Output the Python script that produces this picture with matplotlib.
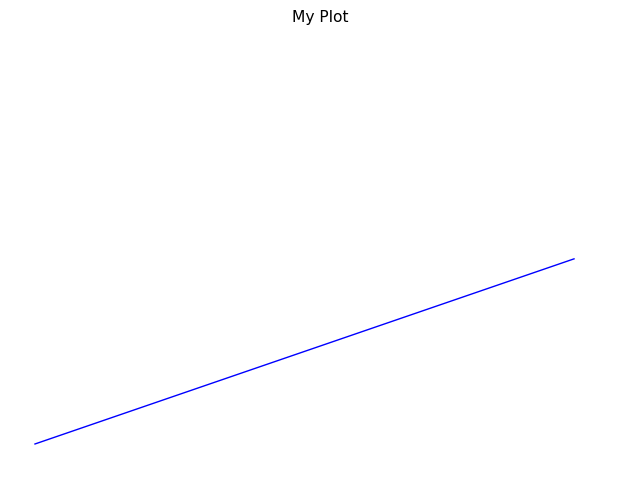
import matplotlib
matplotlib.use("Agg")
import matplotlib.pyplot as plt

x = [0, 1]
y = [0, 1]

fig = plt.figure(figsize=(6.4, 4.8), dpi=100)
ax = fig.add_axes([0, 0, 1, 0.936])
ax.plot(x, y, color='blue', linewidth=1)
ax.set_xlim(-0.0649, 1.1224)
ax.set_ylim(-0.1946, 2.2324)
ax.set_title('My Plot', fontsize=11.2)
ax.axis('off')
fig.savefig('out.png', dpi=100)
